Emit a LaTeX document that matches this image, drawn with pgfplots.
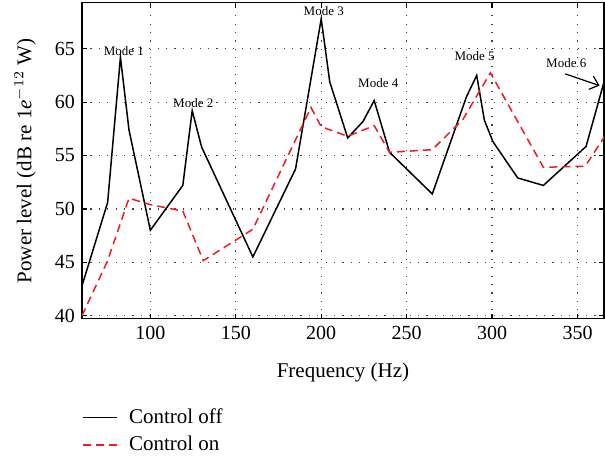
\documentclass[border=0pt]{standalone}
\usepackage{fontspec}
\setmainfont{Liberation Serif}
\usepackage{pgfplots}
\pgfplotsset{compat=1.18}
\usetikzlibrary{arrows.meta}
\definecolor{onred}{RGB}{237,28,36}

\begin{document}
\begin{tikzpicture}
\begin{axis}[
  scale only axis, width=261pt, height=158pt,
  xmin=60, xmax=365.5, ymin=39.7, ymax=69.3,
  xtick={100,150,...,350}, ytick={40,45,...,65},
  grid=major,
  major grid style={black!75, dash pattern=on 0.6pt off 3.6pt, line width=0.6pt},
  axis line style={line width=0.6pt},
  major tick length=2.5pt,
  tick style={black, line width=0.6pt},
  tick label style={font=\fontsize{10}{12}\selectfont},
  /pgf/number format/assume math mode=true,
  label style={font=\fontsize{10.5}{12}\selectfont},
  xlabel={Frequency (Hz)},
  ylabel={Power level (dB re 1\textit{e}$^{-12}$ W)},
  xlabel style={at={(axis description cs:0.5,-0.17)}, anchor=center},
  ylabel style={at={(axis description cs:-0.109,0.5)}, anchor=center},
  legend style={draw=none, fill=none, at={(axis description cs:0,-0.27)}, anchor=north west,
    font=\fontsize{10.5}{12}\selectfont, inner sep=0pt, row sep=1pt,
    /tikz/every odd column/.append style={column sep=3.5pt}},
  legend cell align=left,
  clip mode=individual,
]
% control off
\addplot[black, line width=0.75pt] coordinates {
  (60,42.8) (75,50.6) (82.5,64.2) (87.5,57.4) (100,48.0) (119,52.2) (124.5,59.2)
  (130,55.8) (160,45.5) (185,53.75) (200,67.8) (205,61.9) (215.5,56.65) (224.5,58.2)
  (231,60.15) (240,55.3) (265,51.4) (285,60.5) (291,62.5) (295.5,58.3) (300.5,56.3)
  (315,52.9) (330,52.2) (355,55.85) (365,61.6) (370,57)};
% control on
\addplot[onred, line width=0.75pt, dash pattern=on 4pt off 2.5pt] coordinates {
  (60,40.0) (75,45.15) (87.5,51.0) (100,50.4) (119,49.8) (131,45.15) (160,48.1)
  (194,59.5) (200,57.7) (215.5,56.8) (231,57.8) (240,55.3) (265,55.55) (283,58.4)
  (299,62.75) (330,53.9) (354.5,54.0) (365.5,56.7) (370,58.5)};
\legend{Control off, Control on}

\node[anchor=base, font=\fontsize{6.5}{7}\selectfont] at (axis cs:84.5,64.4) {Mode 1};
\node[anchor=base, font=\fontsize{6.5}{7}\selectfont] at (axis cs:125.1,59.5) {Mode 2};
\node[anchor=base, font=\fontsize{6.5}{7}\selectfont] at (axis cs:201.5,68.1) {Mode 3};
\node[anchor=base, font=\fontsize{6.5}{7}\selectfont] at (axis cs:233.4,61.35) {Mode 4};
\node[anchor=base, font=\fontsize{6.5}{7}\selectfont] at (axis cs:289.8,63.9) {Mode 5};
\node[anchor=base, font=\fontsize{6.5}{7}\selectfont] at (axis cs:343.4,63.27) {Mode 6};
\draw[-{Straight Barb[length=4pt,width=7pt]}, line width=0.6pt] (axis cs:342.8,62.65) -- (axis cs:362.9,61.55);
\end{axis}
\path ([shift={(-41pt,-68pt)}]current axis.south west) rectangle ([shift={(0.5pt,1pt)}]current axis.north east);
\end{tikzpicture}
\end{document}
